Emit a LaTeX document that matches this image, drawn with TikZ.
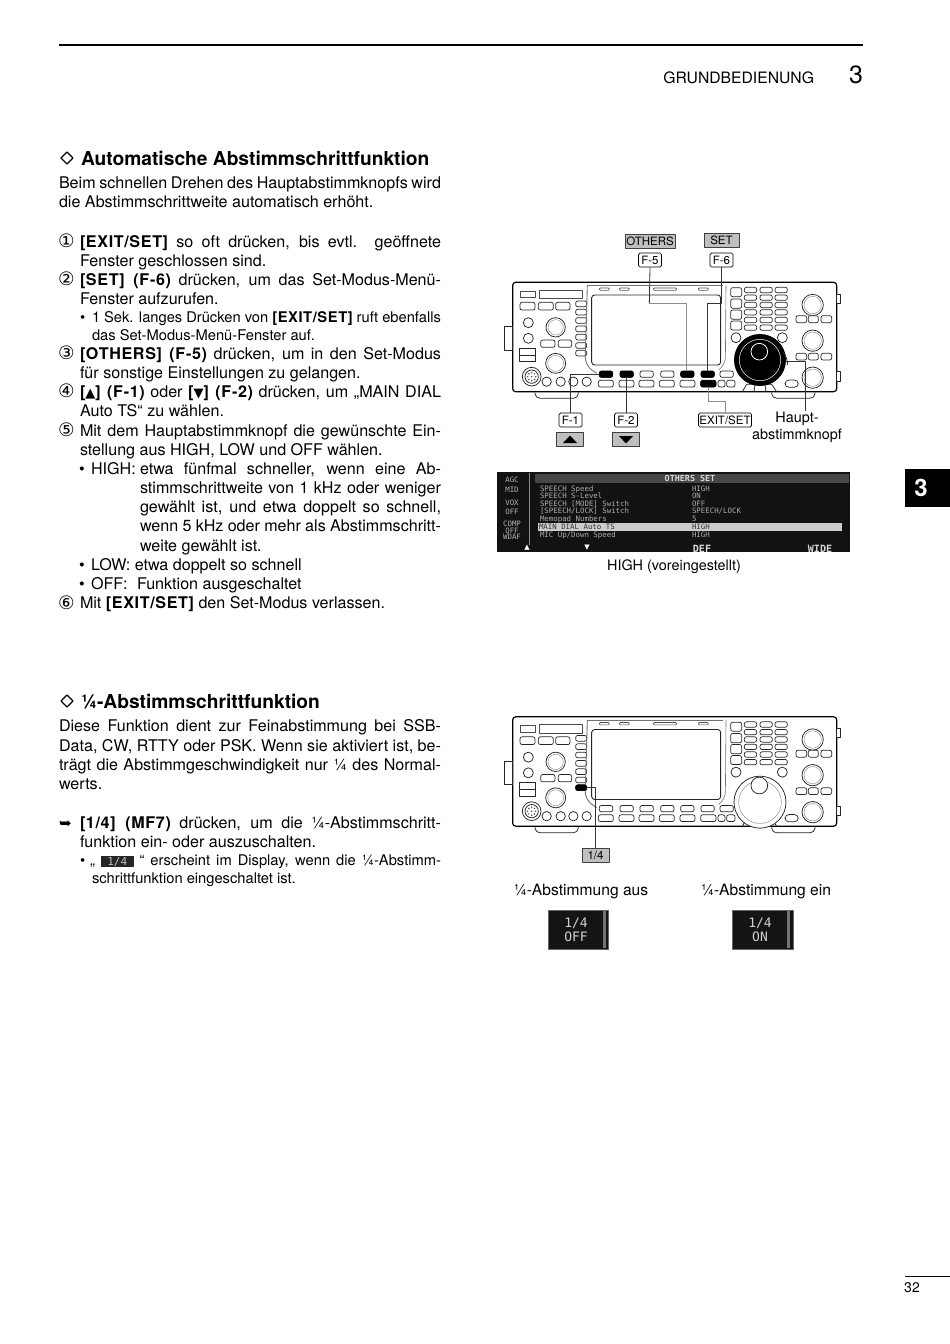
\documentclass[tikz,border=0pt]{standalone}
\usepackage{fontspec}
\setmainfont{TeX Gyre Heros}
\newfontfamily\dv{DejaVu Sans}
\newfontfamily\dvm{DejaVu Sans Mono}
\newcounter{tn}
\newcommand\bodyf{\fontsize{16.1}{19}\selectfont}
\newcommand\smallf{\fontsize{14.7}{16}\selectfont}
\newcommand\headf{\fontsize{19.2}{22}\selectfont\bfseries}
\newcommand\lblf{\fontsize{14.4}{17}\selectfont}
\newcommand\keyf{\fontsize{11.5}{13}\selectfont}
\newcommand\scrf{\dvm\fontsize{7.4}{8}\selectfont}
\newcommand\bb[1]{{\bfseries\addfontfeature{LetterSpace=4}#1}}
% plain line
\newcommand\tline[3]{\stepcounter{tn}\node[txt] (t\arabic{tn}) at (#1,#2+0.6) {#3};}
% justified line, ends at x=441
\newcommand\jline[3]{\stepcounter{tn}\node[txt] (t\arabic{tn}) at (#1,#2+0.6) {\makebox[\dimexpr441pt-#1pt\relax][s]{#3}};}
\newcommand\sline[3]{\stepcounter{tn}\node[txt,font=\smallf] (t\arabic{tn}) at (#1,#2+0.6) {#3};}
\newcommand\sjline[3]{\stepcounter{tn}\node[txt,font=\smallf] (t\arabic{tn}) at (#1,#2+0.6) {\makebox[\dimexpr441pt-#1pt\relax][s]{#3}};}
\newcommand\numl[2]{\stepcounter{tn}\node[txt,font=\dv\fontsize{18.5}{20}\selectfont] (t\arabic{tn}) at (58,#1+1.2) {#2};}
\newcommand\tri[1]{{\dv\fontsize{13}{12}\selectfont #1}}
\newcommand\qt{¼}
\newcommand\radio{%
  \draw[body] (68,172) rectangle (1040,500);
  \draw[part,fill=white] (42,305) rectangle (68,375);
  \draw[part,fill=white] (1040,207) rectangle (1050,235);
  \draw[part,fill=white] (1040,440) rectangle (1050,468);
  \draw[part,rounded corners=2pt] (135,502) -- (135,512) -- (145,520) -- (255,520) -- (265,512) -- (265,502);
  \draw[part,rounded corners=2pt] (845,502) -- (845,512) -- (855,520) -- (965,520) -- (975,512) -- (975,502);
  \draw[bez] (92,198) rectangle (135,218);
  \draw[bez] (148,195) rectangle (278,220);
  \foreach \a/\b in {90/135,145/190,197/240} \draw[btn] (\a,232) rectangle (\b,255);
  \foreach \a in {228,253,278,303,328,353,376} \draw[btn] (257,\a) rectangle (290,\a+17);
  \draw[part] (115,293) circle[radius=15];
  \draw[part] (115,340) circle[radius=15];
  \draw[part] (197,307) circle[radius=29];
  \draw[thin,gray] (197,307) circle[radius=23];
  \draw[btn] (152,345) rectangle (195,367);
  \draw[btn] (205,345) rectangle (245,367);
  \draw[part] (88,370) rectangle (135,410);
  \draw[part] (88,390) -- (135,390);
  \draw[part] (197,415) circle[radius=30];
  \draw[thin,gray] (197,415) circle[radius=24];
  \draw[part] (125,455) circle[radius=28];
  \draw[part] (125,455) circle[radius=20];
  \foreach \a in {0,45,...,315} \fill[black!70] (125,455) ++(\a:12) circle[radius=2.5];
  \fill[black!70] (125,455) circle[radius=2.5];
  \foreach \a in {170,212,250,290} \draw[part] (\a,470) circle[radius=14];
  \draw[bez,line width=0.9pt,black!55,rounded corners=8pt] (292,182) -- (285,420) -- (320,445);
  \draw[bez,line width=0.9pt,black!55,rounded corners=8pt] (292,182) -- (700,182);
  \draw[part,rounded corners=3pt,line width=0.9pt] (305,210) rectangle (692,420);
  \foreach \a/\b in {328/358,388/418,490/560,625/655} \draw[bez,rounded corners=1pt] (\a,189) rectangle (\b,196);
  \draw[bez,rounded corners=8pt,black!55] (708,182) -- (706,420) -- (690,432);
  \foreach \a/\b in {328/368,390/430,450/490,512/552,572/612,633/673,690/730} \draw[btn] (\a,438) rectangle (\b,457);
  \foreach \a/\b in {325/370,387/432,447/492,508/553,570/615,632/678,684/705,710/735} \draw[btn] (\a,466) rectangle (\b,486);
  \foreach \a/\b in {188/215,222/250,255/283,288/315} \draw[btn] (722,\a) rectangle (755,\b);
  \foreach \a in {187,210,232,254,277,300} \foreach \b/\c in {763/800,810/847,855/892} \draw[btn] (\b,\a) rectangle (\c,\a+16);
  \draw[part] (738,338) circle[radius=15];
  \draw[part] (877,338) circle[radius=15];
  \draw[part] (968,240) circle[radius=32];
  \draw[thin,gray] (968,240) circle[radius=26];
  \foreach \a/\b in {918/950,955/985,993/1025} \draw[btn] (\a,272) rectangle (\b,293);
  \draw[part] (968,347) circle[radius=32];
  \draw[thin,gray] (968,347) circle[radius=26];
  \foreach \a/\b in {918/950,955/985,993/1025} \draw[btn] (\a,385) rectangle (\b,405);
  \draw[part] (968,458) circle[radius=32];
  \draw[thin,gray] (968,458) circle[radius=26];
  \draw[btn,rounded corners=4pt] (885,465) rectangle (925,487);
  \draw[part] (757,500) -- (770,478) -- (845,478) -- (860,500);
  \draw[part] (795,480) -- (792,500) (825,480) -- (828,500);
}
\begin{document}
\begin{tikzpicture}[x=1pt,y=-1pt,line join=round,
  txt/.style={anchor=base west,inner sep=0pt,outer sep=0pt,font=\bodyf},
  lbl/.style={inner sep=0pt,outer sep=0pt,font=\lblf},
  body/.style={draw=black,line width=1.2pt,rounded corners=3pt,fill=white},
  part/.style={draw=black!85,line width=0.75pt},
  bez/.style={draw=black!70,line width=0.6pt},
  btn/.style={draw=black!85,line width=0.7pt,rounded corners=2pt,fill=white},
  blk/.style={draw=black,fill=black,rounded corners=2pt},
  keybox/.style={draw=black,line width=0.7pt,rounded corners=1.5pt,fill=white,font=\keyf,inner sep=0pt,minimum height=14pt},
  softkey/.style={draw=black!75,line width=0.7pt,fill=black!25,font=\keyf,inner sep=0pt,minimum height=14pt},
  wire/.style={draw=black!80,line width=0.8pt},
  grayw/.style={draw=black!45,line width=0.8pt},
  scrt/.style={inner sep=0pt,outer sep=0pt,text=black!32,font=\scrf,anchor=base west},
  scrc/.style={inner sep=0pt,outer sep=0pt,text=black!30,font=\scrf},
  sym/.style={draw=black,line width=1.2pt},
  face/.style={draw=black!60,fill=black!92,line width=0.5pt},
  facet/.style={inner sep=0pt,outer sep=0pt,text=black!18,font=\dvm\fontsize{13}{14}\selectfont},
  runits1/.style={shift={(490,225)},x=0.33333pt,y=-0.33333pt},
  runits2/.style={shift={(490,659.5)},x=0.33333pt,y=-0.33333pt}]
\useasboundingbox (0,0) rectangle (950,1344);
\fill[white] (0,0) rectangle (950,1344);

% header
\draw[line width=2.4pt] (59,45) -- (863,45);
\node[txt,anchor=base east,font=\fontsize{15.7}{18}\selectfont] (hdr) at (814,83) {GRUNDBEDIENUNG};
\node[txt,anchor=base east,font=\fontsize{25}{30}\selectfont] (hdrn) at (863,83.5) {3};
\fill[black] (905,469) rectangle (950,507);
\node[inner sep=0pt,text=white,font=\fontsize{24}{28}\selectfont\bfseries] (tab) at (921,488) {3};
\draw[line width=0.6pt] (905,1276) -- (950,1276);
\node[inner sep=0pt,font=\fontsize{14}{16}\selectfont] (pg) at (912,1288) {32};

% section 1
\draw[sym] (67,152) -- (73,158) -- (67,164) -- (61,158) -- cycle;
\node[txt,font=\headf] (h1) at (81,165) {Automatische Abstimmschrittfunktion};
\jline{59}{188}{Beim schnellen Drehen des Hauptabstimmknopfs wird}
\tline{59}{207}{die Abstimmschrittweite automatisch erhöht.}
\numl{246.5}{①}
\jline{80}{246.5}{\bb{[EXIT/SET]} so oft drücken, bis evtl. geöffnete}
\tline{80}{265.5}{Fenster geschlossen sind.}
\numl{284.5}{②}
\jline{80}{284.5}{\bb{[SET] (F-6)} drücken, um das Set-Modus-Menü-}
\tline{80}{303.5}{Fenster aufzurufen.}
\sline{80}{321.5}{•}
\sjline{92}{321.5}{1 Sek. langes Drücken von \bb{[EXIT/SET]} ruft ebenfalls}
\sline{92}{339.5}{das Set-Modus-Menü-Fenster auf.}
\numl{358.5}{③}
\jline{80}{358.5}{\bb{[OTHERS] (F-5)} drücken, um in den Set-Modus}
\tline{80}{377.5}{für sonstige Einstellungen zu gelangen.}
\numl{396.5}{④}
\jline{80}{396.5}{\bb{[\tri{▲}] (F-1)} oder \bb{[\tri{▼}] (F-2)} drücken, um „MAIN DIAL}
\tline{80}{415.5}{Auto TS“ zu wählen.}
\numl{435.5}{⑤}
\jline{80}{435.5}{Mit dem Hauptabstimmknopf die gewünschte Ein-}
\tline{80}{454.5}{stellung aus HIGH, LOW und OFF wählen.}
\tline{79}{473.5}{•}
\tline{91}{473.5}{HIGH:}
\jline{140}{473.5}{etwa fünfmal schneller, wenn eine Ab-}
\jline{140}{492.5}{stimmschrittweite von 1 kHz oder weniger}
\jline{140}{512}{gewählt ist, und etwa doppelt so schnell,}
\jline{140}{531}{wenn 5 kHz oder mehr als Abstimmschritt-}
\tline{140}{550.5}{weite gewählt ist.}
\tline{79}{569.5}{•}
\tline{91}{569.5}{LOW: etwa doppelt so schnell}
\tline{79}{589}{•}
\tline{91}{589}{OFF:}
\tline{137}{589}{Funktion ausgeschaltet}
\numl{608}{⑥}
\tline{80}{608}{Mit \bb{[EXIT/SET]} den Set-Modus verlassen.}

% section 2
\draw[sym] (67,695) -- (73,701) -- (67,707) -- (61,701) -- cycle;
\node[txt,font=\headf] (h2) at (81,708) {¼-Abstimmschrittfunktion};
\jline{59}{731}{Diese Funktion dient zur Feinabstimmung bei SSB-}
\jline{59}{750.5}{Data, CW, RTTY oder PSK. Wenn sie aktiviert ist, be-}
\jline{59}{769.5}{trägt die Abstimmgeschwindigkeit nur \qt\ des Normal-}
\tline{59}{788.5}{werts.}
\stepcounter{tn}\node[txt,font=\dv\fontsize{15}{16}\selectfont] (arr) at (59,828) {➥};
\jline{80}{827.5}{\bb{[1/4] (MF7)} drücken, um die \qt-Abstimmschritt-}
\tline{80}{846.5}{funktion ein- oder auszuschalten.}
\sline{80}{864.5}{•}
\sjline{90}{864.5}{„ {\fboxsep=0.8pt\colorbox{black!85}{\makebox[31pt]{\textcolor{black!25}{\dvm\fontsize{11}{10}\selectfont 1/4}}}} “ erscheint im Display, wenn die \qt-Abstimm-}
\sline{92}{882.5}{schrittfunktion eingeschaltet ist.}

% radio 1
\begin{scope}[runits1]
  \radio
  \foreach \a/\b in {328/368,390/430,572/612,633/673} \draw[blk] (\a,438) rectangle (\b,457);
  \draw[blk] (632,466) rectangle (678,486);
  \fill[black] (810,405) circle[radius=78];
  \draw[white,line width=0.5pt] (810,405) circle[radius=62];
  \draw[white,line width=0.8pt] (808,380) circle[radius=25];
  \draw[part] (893,420) arc[start angle=0,end angle=-40,radius=60];
  \coordinate (c5) at (478,235);
  \coordinate (e5) at (590,438);
  \coordinate (c6) at (652,235);
  \coordinate (e6) at (652,438);
  \coordinate (e1) at (328,448);
  \coordinate (e2) at (410,457);
  \coordinate (cx) at (707,530);
  \coordinate (ex) at (655,486);
  \coordinate (eh) at (888,408);
\end{scope}
\node[softkey,minimum width=50pt] (others) at (650,241) {OTHERS};
\node[softkey,minimum width=35pt] (setk) at (721.5,240.5) {SET};
\node[keybox,minimum width=23pt] (f5) at (650,260) {F-5};
\node[keybox,minimum width=23pt] (f6) at (721.5,260) {F-6};
\node[keybox,minimum width=23pt] (f1) at (570.5,420) {F-1};
\node[keybox,minimum width=23pt] (f2) at (626,420) {F-2};
\node[keybox,minimum width=53pt] (exit) at (725,420) {EXIT/SET};
\node[softkey,minimum width=27pt] (up) at (570,439.5) {};
\node[softkey,minimum width=27pt] (down) at (626,439.5) {};
\fill[black] (up.center) ++(-7,3.5) -- ++(14,0) -- ++(-7,-7.5) -- cycle;
\fill[black] (down.center) ++(-7,-3.5) -- ++(14,0) -- ++(-7,7.5) -- cycle;
\node[lbl] (haupt) at (797,419) {Haupt-};
\node[lbl] (knopf) at (797,436) {abstimmknopf};
\coordinate (hc) at (805,411);
\draw[wire] (f5.south) -- (c5);
\draw[grayw] (c5) -| (e5);
\draw[wire] (f6.south) |- (c6) -- (e6);
\draw[wire] (f1.north) |- (e1);
\draw[wire] (f2.north) -- (f2.north |- e2);
\draw[grayw] (exit.north -| cx) -- (cx) -| (ex);
\draw[wire] (hc) -- (hc |- eh) -- (eh);

% screen
\fill[black!93] (497,472) rectangle (850,552);
\fill[black!72] (535,473.5) rectangle (849,483);
\fill[black!45] (528.5,473) rectangle (530,545);
\fill[black!20] (538,523) rectangle (842,531);
\node[scrc,font=\dvm\bfseries\fontsize{8.4}{9}\selectfont,text=black!15] (stitle) at (690,478.5) {OTHERS SET};
\foreach \nm/\yy/\lab/\val in {r1/491/{SPEECH Speed}/HIGH,r2/498.5/{SPEECH S-Level}/ON,r3/506/{SPEECH [MODE] Switch}/OFF,r4/513.5/{[SPEECH/LOCK] Switch}/{SPEECH/LOCK},r5/521.5/{Memopad Numbers}/5,r7/537.5/{MIC Up/Down Speed}/HIGH}{
  \node[scrt] (\nm a) at (540,\yy) {\lab};
  \node[scrt] (\nm b) at (692,\yy) {\val};
}
\node[scrt,text=black!80] (r6a) at (539,529.5) {MAIN DIAL Auto TS};
\node[scrt,text=black!80] (r6b) at (692,529.5) {HIGH};
\foreach \nm/\yy/\lab in {l1/480/AGC,l2/490/MID,l3/503/VOX,l4/512/OFF,l5/524/COMP,l6/531/OFF,l7/537/WDAF}
  \node[scrc] (\nm) at (512,\yy) {\lab};
\node[scrc,font=\dv\fontsize{7}{8}\selectfont,text=white] (s1) at (527,548) {▲};
\node[scrc,font=\dv\fontsize{7}{8}\selectfont,text=white] (s2) at (587,548) {▼};
\node[scrc,font=\dvm\bfseries\fontsize{10}{10}\selectfont,text=black!15] (s3) at (702,549) {DEF};
\node[scrc,font=\dvm\bfseries\fontsize{10}{10}\selectfont,text=black!15] (s4) at (820,549) {WIDE};
\node[lbl] (cap) at (674,566.5) {HIGH (voreingestellt)};

% radio 2
\begin{scope}[runits2]
  \radio
  \draw[blk] (257,376) rectangle (290,393);
  \fill[white] (810,428) circle[radius=78];
  \draw[part] (810,428) circle[radius=78];
  \draw[thin,gray] (810,428) circle[radius=64];
  \draw[part,fill=white] (808,378) circle[radius=25];
  \coordinate (eq) at (290,384);
\end{scope}
\node[softkey,minimum width=27pt] (qk) at (595.5,855) {1/4};
\draw[wire] (qk.north) |- (eq);
\node[lbl,font=\fontsize{15.6}{17}\selectfont] (aus) at (581,892) {¼-Abstimmung aus};
\node[lbl,font=\fontsize{15.6}{17}\selectfont] (ein) at (766,892) {¼-Abstimmung ein};
\draw[face] (548,910) rectangle (608,949);
\fill[black!55] (603,911) rectangle (606,948);
\node[facet] (o1) at (576,923) {1/4};
\node[facet] (o2) at (576,937) {OFF};
\draw[face] (732,910) rectangle (793,949);
\fill[black!55] (787,911) rectangle (790,948);
\node[facet] (n1) at (760,923) {1/4};
\node[facet] (n2) at (760,937) {ON};
\end{tikzpicture}
\end{document}
